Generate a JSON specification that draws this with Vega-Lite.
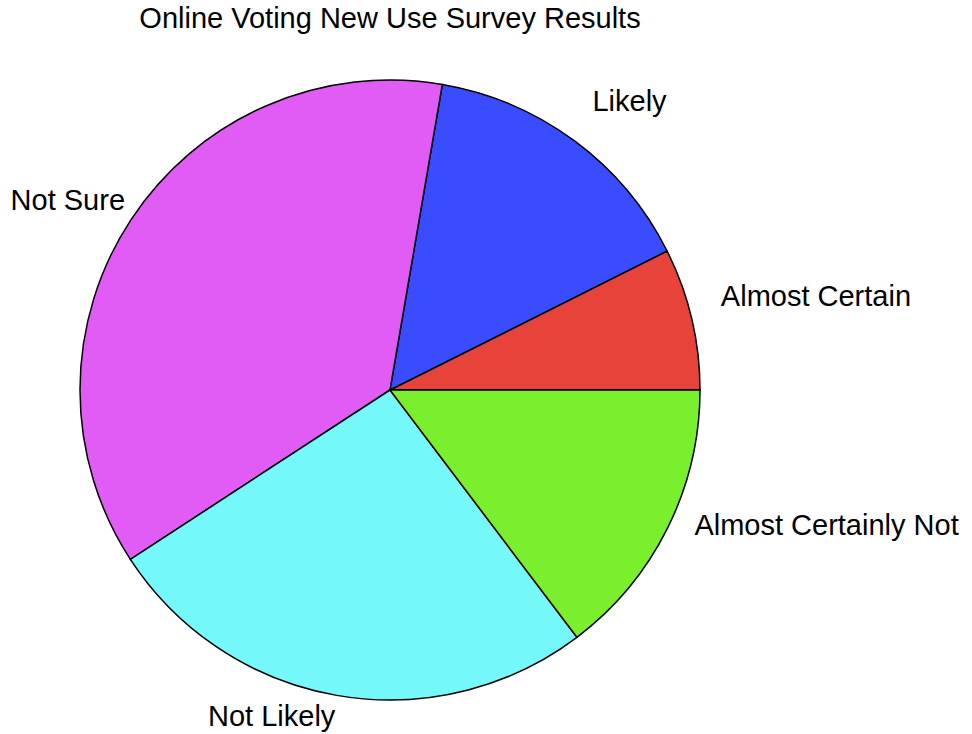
{
  "$schema": "https://vega.github.io/schema/vega-lite/v6.json",
  "width": 780,
  "height": 696,
  "padding": {"top": 5, "left": 0, "right": 0, "bottom": 0},
  "title": {"text": "Online Voting New Use Survey Results", "font": "Liberation Sans", "fontSize": 29, "fontWeight": "normal", "color": "#000000", "offset": 8, "anchor": "middle"},
  "config": {"view": {"stroke": null}},
  "data": {"values": [
    {"answer": "Almost Certain", "pct": 7.4, "ord": 1},
    {"answer": "Likely", "pct": 14.9, "ord": 2},
    {"answer": "Not Sure", "pct": 36.9, "ord": 3},
    {"answer": "Not Likely", "pct": 26.1, "ord": 4},
    {"answer": "Almost Certainly Not", "pct": 14.7, "ord": 5}
  ]},
  "encoding": {
    "theta": {"field": "pct", "type": "quantitative", "stack": true, "scale": {"range": [1.5708, -4.7124]}},
    "order": {"field": "ord", "type": "quantitative"}
  },
  "layer": [
    {
      "mark": {"type": "arc", "outerRadius": 310, "stroke": "#000000", "strokeWidth": 1.5, "opacity": 1},
      "encoding": {
        "color": {"field": "answer", "type": "nominal", "legend": null,
          "scale": {"domain": ["Almost Certain", "Likely", "Not Sure", "Not Likely", "Almost Certainly Not"],
                    "range": ["#e8433a", "#3a4cff", "#e05cf5", "#74f8fa", "#7aef2e"]}}
      }
    },
    {
      "mark": {"type": "text", "radius": 340, "align": "left", "baseline": "bottom", "font": "Liberation Sans", "fontSize": 29, "color": "#000000"},
      "encoding": {
        "text": {"condition": {"test": "datum.answer == 'Likely' || datum.answer == 'Almost Certain' || datum.answer == 'Almost Certainly Not'", "field": "answer"}, "value": ""}
      }
    },
    {
      "mark": {"type": "text", "radius": 317, "align": "right", "baseline": "bottom", "font": "Liberation Sans", "fontSize": 29, "color": "#000000"},
      "encoding": {
        "text": {"condition": {"test": "datum.answer == 'Not Sure'", "field": "answer"}, "value": ""}
      }
    },
    {
      "mark": {"type": "text", "radius": 318, "align": "right", "baseline": "top", "font": "Liberation Sans", "fontSize": 29, "color": "#000000"},
      "encoding": {
        "text": {"condition": {"test": "datum.answer == 'Not Likely'", "field": "answer"}, "value": ""}
      }
    }
  ]
}
